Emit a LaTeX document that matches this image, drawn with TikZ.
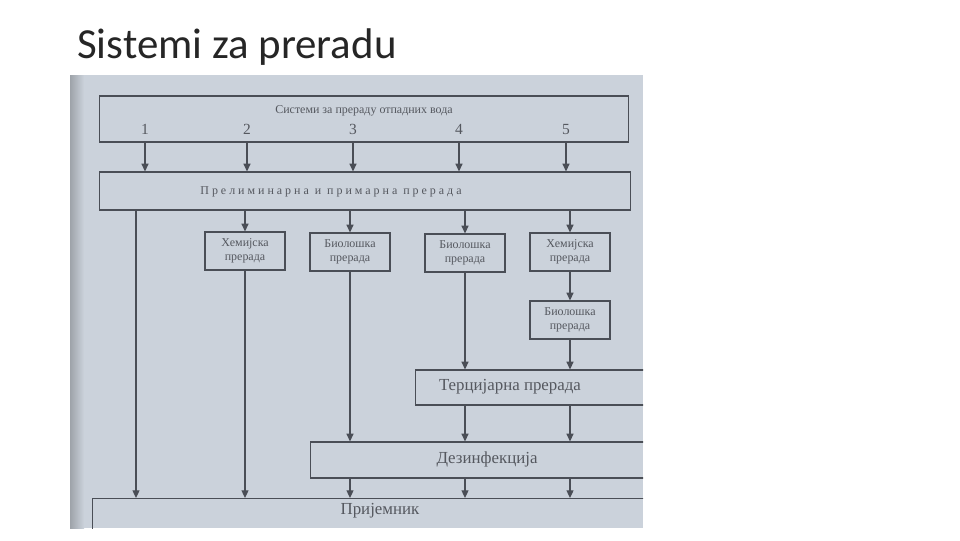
\documentclass[tikz,border=0pt]{standalone}
\usepackage{fontspec}
\setmainfont{Liberation Serif}
\newfontfamily\titlefont{Carlito}
\usetikzlibrary{arrows.meta, positioning}
\definecolor{photobg}{HTML}{CBD2DB}
\definecolor{photoedge}{HTML}{9EA3A9}
\definecolor{ink}{HTML}{4A4E56}
\definecolor{printtxt}{HTML}{55585F}

\begin{document}
\begin{tikzpicture}[
  x=0.025cm, y=-0.025cm,
  >={Triangle[length=5.5pt, width=5pt]},
  every node/.style={text=printtxt},
  box/.style={draw=ink, line width=0.8pt, align=center, minimum width=2cm, minimum height=0.95cm, inner sep=1pt, font=\fontsize{8.5}{10}\selectfont},
  wide/.style={draw=ink, line width=0.8pt, inner sep=0pt},
  caption/.style={font=\fontsize{12}{14}\selectfont, inner sep=1pt},
  num/.style={font=\fontsize{11}{13}\selectfont, inner sep=1pt, anchor=base},
  flow/.style={->, draw=ink, line width=0.9pt}
]
\useasboundingbox (0,0) rectangle (960,540);

% Slide title
\node[anchor=base west, text=black!85, font=\titlefont\fontsize{30.5}{36}\selectfont, inner sep=0pt] (title) at (77,58) {Sistemi za preradu};

% Photographed page
\fill[photobg] (70,75) rectangle (643,528);
\shade[left color=photoedge, right color=photobg] (70,75) rectangle (84,528);

\begin{scope}
\clip (70,75) rectangle (643,528);

% Top level: systems and numbered lines
\node[wide, minimum width=13.2cm, minimum height=1.15cm] (sys) at (364,119) {};
\node[inner sep=1pt, font=\fontsize{8.5}{10}\selectfont] (systxt) at (364,111) {Системи за прераду отпадних вода};
\node[num] (n1) at (145,134) {1};
\node[num] (n2) at (247,134) {2};
\node[num] (n3) at (353,134) {3};
\node[num] (n4) at (459,134) {4};
\node[num] (n5) at (566,134) {5};

% Preliminary and primary treatment
\node[wide, minimum width=13.25cm, minimum height=0.95cm] (prim) at (365,191) {};
\node[inner sep=1pt, font=\fontsize{8.5}{10}\selectfont\addfontfeatures{LetterSpace=25}] (primtxt) at (331,192) {Прелиминарна и примарна прерада};

% Treatment boxes
\node[box] (chem2) at (245,251) {Хемијска\\прерада};
\node[box] (bio3) at (350,252) {Биолошка\\прерада};
\node[box] (bio4) at (465,253) {Биолошка\\прерада};
\node[box] (chem5) at (570,252) {Хемијска\\прерада};
\node[box] (bio5) at (570,320) {Биолошка\\прерада};

% Tertiary, disinfection, receiver
\node[wide, anchor=west, minimum width=7cm, minimum height=0.875cm] (tert) at (415,387.5) {};
\node[caption] (terttxt) at (510,387) {Терцијарна прерада};
\node[wide, anchor=west, minimum width=10cm, minimum height=0.9cm] (dez) at (310,460) {};
\node[caption] (deztxt) at (487,459) {Дезинфекција};
\node[wide, anchor=north west, minimum width=15cm, minimum height=1.5cm] (prij) at (92,498) {};
\node[caption] (prijtxt) at (380,511) {Пријемник};
\coordinate (col1) at (136,0);

% Arrows from the numbered systems
\foreach \n in {1,...,5}
  \draw[flow] (n\n |- sys.south) -- (n\n |- prim.north);

% Arrows into treatment boxes
\foreach \b in {chem2, bio3, bio4, chem5}
  \draw[flow] (\b |- prim.south) -- (\b.north);
\draw[flow] (chem5.south) -- (bio5.north);

% Long vertical lines
\draw[flow] (col1 |- prim.south) -- (col1 |- prij.north);
\draw[flow] (chem2.south) -- (chem2.south |- prij.north);
\draw[flow] (bio3.south) -- (bio3.south |- dez.north);
\draw[flow] (bio4.south) -- (bio4.south |- tert.north);
\draw[flow] (bio5.south) -- (bio5.south |- tert.north);

% Tertiary to disinfection to receiver
\foreach \b in {bio4, bio5}
  \draw[flow] (\b |- tert.south) -- (\b |- dez.north);
\foreach \b in {bio3, bio4, bio5}
  \draw[flow] (\b |- dez.south) -- (\b |- prij.north);
\end{scope}

\end{tikzpicture}
\end{document}
